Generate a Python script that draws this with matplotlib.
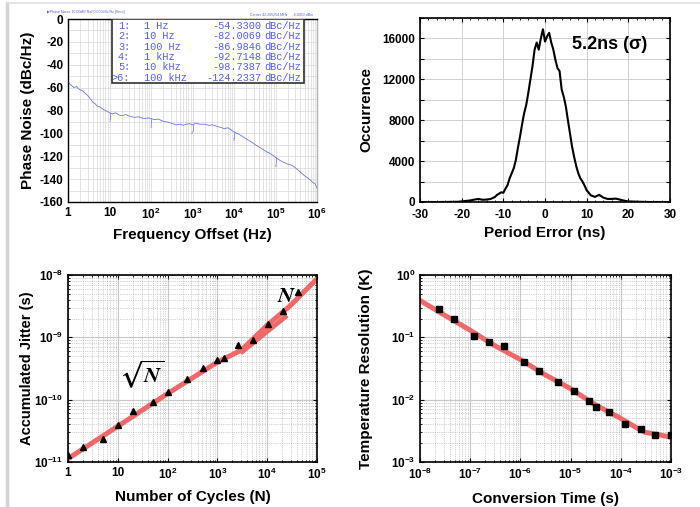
import numpy as np
import matplotlib.pyplot as plt
from matplotlib.ticker import FuncFormatter, LogLocator, MultipleLocator, NullFormatter
from matplotlib.lines import Line2D

plt.rcParams['font.family'] = ['Liberation Sans', 'DejaVu Sans']
plt.rcParams['font.weight'] = 'bold'
plt.rcParams['axes.unicode_minus'] = False
plt.rcParams['mathtext.fontset'] = 'custom'
plt.rcParams['mathtext.rm'] = 'Liberation Sans:bold'
plt.rcParams['mathtext.bf'] = 'Liberation Sans:bold'
plt.rcParams['mathtext.default'] = 'bf'

# ---- data ----
pn_freq = [1, 1.1, 1.2, 1.4, 1.6, 1.8, 2, 2.3, 2.6, 3, 3.5, 4, 4.5, 5, 6, 7, 8, 9,
           10, 12, 14, 17, 20, 25, 30, 40, 50, 60, 70, 85,
           100, 120, 150, 200, 250, 300, 400, 500, 600, 700, 850,
           1e3, 1.2e3, 1.5e3, 2e3, 2.5e3, 3e3, 4e3, 5e3, 6e3, 7e3, 8.5e3,
           1e4, 1.2e4, 1.5e4, 2e4, 2.5e4, 3e4, 4e4, 5e4, 6e4, 7e4, 8.5e4,
           1e5, 1.2e5, 1.5e5, 2e5, 2.5e5, 3e5, 4e5, 5e5, 6e5, 7e5, 8e5, 9e5, 1e6]
pn_db = [-54.3, -57, -58, -60, -59, -61, -62, -63, -65, -67, -70, -73, -74, -76, -77, -79, -80, -81,
         -82, -83, -82, -84, -84.5, -83.5, -85, -86, -85.5, -86.5, -87, -86.5,
         -87, -88, -87.5, -89.5, -90, -91, -92.5, -92, -93, -92, -91.5,
         -92.7, -91, -92, -92, -93, -92.5, -94, -95, -96, -95, -97,
         -98.7, -100, -102, -105, -107, -109, -112, -114, -116, -117, -119,
         -121, -123, -125, -127, -128, -130, -134, -137, -139, -141, -143, -144, -148]
marker_freq = [1e1, 1e2, 1e3, 1e4, 1e5]
marker_rows = [('1:', '1 Hz', '-54.3300'), ('2:', '10 Hz', '-82.0069'), ('3:', '100 Hz', '-86.9846'),
               ('4:', '1 kHz', '-92.7148'), ('5:', '10 kHz', '-98.7387'), ('>6:', '100 kHz', '-124.2337')]

err_ns = [-30, -25, -21, -20, -18, -17, -16, -15, -14, -13, -12, -11.5, -11, -10.5, -10, -9.5, -9, -8.5, -8,
          -7.5, -7, -6.5, -6, -5.5, -5, -4.5, -4, -3.5, -3, -2.5, -2, -1.5, -1, -0.5, 0, 0.5, 1, 1.5,
          2, 2.5, 3, 3.5, 4, 4.5, 5, 5.5, 6, 6.5, 7, 7.5, 8, 8.5, 9, 9.5, 10, 10.5, 11, 12, 13, 14,
          15, 16, 17, 18, 19, 20, 22, 25, 30]
occurrence = [0, 0, 20, 60, 150, 230, 300, 220, 240, 300, 500, 700, 820, 950, 900, 1300, 1640, 2300, 2800,
              3300, 4100, 5300, 6400, 7600, 8700, 9500, 10700, 12000, 13300, 14900, 15600, 14900, 16000, 16900, 15700, 16200, 16550, 15600,
              14900, 13900, 13100, 12800, 11000, 10300, 9350, 8000, 6700, 5400, 4400, 3500, 2800, 2300, 2000, 1600, 1150, 900, 650, 500, 700, 430,
              300, 300, 330, 230, 130, 60, 30, 0, 0]

cycles = [1, 2, 5, 10, 20, 50, 100, 240, 510, 1000, 1360, 2550, 5090, 10500, 21000, 42000]
jitter = [1.3e-11, 1.74e-11, 2.37e-11, 3.9e-11, 6.6e-11, 9.2e-11, 1.34e-10, 2.15e-10, 3.2e-10,
          4.4e-10, 4.7e-10, 7.4e-10, 9.2e-10, 1.66e-9, 2.6e-9, 5.3e-9]
fit_cycles = [1, 10, 100, 1000, 3000, 1e4, 3e4, 1e5]
fit_jitter = [1.13e-11, 3.74e-11, 1.25e-10, 4.0e-10, 6.2e-10, 1.56e-9, 3.3e-9, 8.7e-9]
fitN_cycles = [2900, 25000]
fitN_jitter = [5.6e-10, 2.25e-9]

conv_time = [2.36e-8, 4.7e-8, 1.18e-7, 2.36e-7, 4.7e-7, 1.17e-6, 2.3e-6, 5.7e-6, 1.17e-5, 2.33e-5,
             3.2e-5, 5.9e-5, 1.2e-4, 2.47e-4, 4.9e-4, 1e-3]
temp_res = [0.29, 0.195, 0.104, 0.084, 0.072, 0.040, 0.029, 0.0195, 0.0138, 0.0095,
            0.0077, 0.0063, 0.004, 0.0034, 0.0027, 0.00275]
fit_time = [1e-8, 3e-8, 1e-7, 3e-7, 1e-6, 3e-6, 1e-5, 3e-5, 1e-4, 2e-4, 3e-4, 5e-4, 1e-3]
fit_res = [0.39, 0.23, 0.13, 0.0745, 0.044, 0.0255, 0.015, 0.0084, 0.005, 0.0036, 0.003, 0.0028, 0.0025]

W, H = 700, 507
fig = plt.figure(figsize=(W / 100, H / 100), dpi=100)
red = '#ee6a6a'
tick_fs = 8.5
lab_fs = 11


def box(l, t, r, b):
    return [l / W, 1 - b / H, (r - l) / W, (b - t) / H]


def logfmt(v, pos):
    e = int(round(np.log10(v)))
    if e == 0:
        return '1'
    if e == 1:
        return '10'
    return r'$10^{%d}$' % e


def sci(v, pos):
    return r'$10^{%d}$' % int(round(np.log10(v)))


def style(ax):
    ax.tick_params(which='both', direction='in', top=True, right=True, labelsize=tick_fs)
    ax.tick_params(which='major', length=3)
    ax.tick_params(which='minor', length=1.5)
    for s in ax.spines.values():
        s.set_linewidth(1.2)


# ---- phase noise ----
ax1 = fig.add_axes(box(68, 19, 317, 202))
ax1.semilogx(pn_freq, pn_db, color='#6a78dd', lw=0.6)
for i, f in enumerate(marker_freq):
    v = np.interp(np.log10(f), np.log10(pn_freq), pn_db)
    ax1.plot([f, f], [v, v - 5], color='#6a78dd', lw=0.5)
    ax1.text(f, v - 5.5, str(i + 2), fontsize=3, color='#6a78dd', ha='center', va='top', fontweight='normal')
ax1.set_xlim(1, 1e6)
ax1.set_ylim(-160, 0)
ax1.set_yticks(np.arange(-160, 1, 20))
ax1.yaxis.set_minor_locator(MultipleLocator(10))
ax1.xaxis.set_major_locator(LogLocator(base=10, numticks=10))
ax1.xaxis.set_minor_locator(LogLocator(base=10, subs=np.arange(2, 10), numticks=10))
ax1.xaxis.set_major_formatter(FuncFormatter(logfmt))
ax1.xaxis.set_minor_formatter(NullFormatter())
ax1.grid(which='both', color='#d8d8d8', lw=0.5)
ax1.tick_params(which='both', length=0, labelsize=tick_fs)
ax1.set_xlabel('Frequency Offset (Hz)', fontsize=lab_fs, fontweight='bold')
ax1.set_ylabel('Phase Noise (dBc/Hz)', fontsize=lab_fs, fontweight='bold')
ax1.yaxis.set_label_coords(-0.132, 0.5)
for s in ax1.spines.values():
    s.set_linewidth(1.0)
ax1.spines['right'].set_color('#b0b0b0')
ax1.add_patch(plt.Rectangle((0.175, 0.65), 0.772, 0.35, transform=ax1.transAxes,
                            facecolor='white', edgecolor='#303030', lw=1.2, zorder=5))
for k, (a, b, c) in enumerate(marker_rows):
    yy = 0.962 - k * 0.0565
    kw = dict(transform=ax1.transAxes, fontsize=7.4, color='#5560d8', family='Liberation Mono',
              fontweight='normal', va='center', zorder=6)
    ax1.text(0.25, yy, a, ha='right', **kw)
    ax1.text(0.305, yy, b, ha='left', **kw)
    ax1.text(0.775, yy, c, ha='right', **kw)
    ax1.text(0.79, yy, 'dBc/Hz', ha='left', **kw)
fig.text(47 / W, 1 - 12 / H, '\u25b6Phase Noise 10.00dB/ Ref 0.000dBc/Hz [Smo]', fontsize=2.6,
         color='#5560d8', fontweight='normal', va='center')
fig.text(250 / W, 1 - 15 / H, 'Carrier 42.295254 MHz     -5.0453 dBm', fontsize=2.6,
         color='#5560d8', fontweight='normal', va='center')

# ---- period error histogram ----
ax2 = fig.add_axes(box(420, 18, 670, 202))
ax2.plot(err_ns, occurrence, color='black', lw=1.5)
ax2.set_xlim(-30, 30)
ax2.set_ylim(0, 18000)
ax2.set_xticks(np.arange(-30, 31, 10))
ax2.set_yticks(np.arange(0, 18001, 2000))
ax2.yaxis.set_major_formatter(FuncFormatter(lambda v, p: '%d' % v if v % 4000 == 0 and v < 18000 else ''))
ax2.xaxis.set_minor_locator(MultipleLocator(2))
ax2.grid(which='major', color='#d0d0d0', lw=0.7)
style(ax2)
ax2.tick_params(axis='x', pad=5)
ax2.set_xlabel('Period Error (ns)', fontsize=lab_fs, fontweight='bold')
ax2.set_ylabel('Occurrence', fontsize=lab_fs, fontweight='bold')
ax2.yaxis.set_label_coords(-0.188, 0.5)
ax2.text(6.5, 15400, '5.2ns (\u03c3)', fontsize=13, fontweight='bold', va='center')

# ---- accumulated jitter ----
ax3 = fig.add_axes(box(68, 275, 317, 462))
ax3.loglog(fit_cycles, fit_jitter, color=red, lw=3.6, solid_capstyle='butt', zorder=2)
ax3.loglog(fitN_cycles, fitN_jitter, color=red, lw=3.6, solid_capstyle='butt', zorder=2)
ax3.loglog(cycles, jitter, '^', color='black', ms=5, zorder=3)
ax3.set_xlim(1, 1e5)
ax3.set_ylim(1e-11, 1e-8)
ax3.xaxis.set_major_formatter(FuncFormatter(logfmt))
ax3.yaxis.set_major_formatter(FuncFormatter(sci))
for a in (ax3.xaxis, ax3.yaxis):
    a.set_minor_locator(LogLocator(base=10, subs=np.arange(2, 10), numticks=12))
    a.set_minor_formatter(NullFormatter())
ax3.grid(which='major', color='#c8c8c8', lw=0.8)
ax3.grid(which='minor', color='#a8a8a8', lw=0.5, ls=':')
style(ax3)
ax3.set_xlabel('Number of Cycles (N)', fontsize=lab_fs, fontweight='bold')
ax3.set_ylabel('Accumulated Jitter (s)', fontsize=10.5, fontweight='bold')
ax3.yaxis.set_label_coords(-0.137, 0.5)
ax3.xaxis.set_label_coords(0.5, -0.152)
ax3.text(30, 2.6e-10, r'$\sqrt{\boldsymbol{N}}$', fontsize=16, math_fontfamily='stix', ha='center', va='center')
ax3.text(2.4e4, 4.6e-9, r'$\boldsymbol{N}$', fontsize=16, math_fontfamily='stix', ha='center', va='center')

# ---- temperature resolution ----
ax4 = fig.add_axes(box(420, 275, 671, 462))
ax4.loglog(fit_time, fit_res, color=red, lw=3.6, zorder=2)
ax4.loglog(conv_time, temp_res, 's', color='black', ms=4.2, zorder=3)
ax4.set_xlim(1e-8, 1e-3)
ax4.set_ylim(1e-3, 1)
ax4.xaxis.set_major_formatter(FuncFormatter(sci))
ax4.yaxis.set_major_formatter(FuncFormatter(sci))
for a in (ax4.xaxis, ax4.yaxis):
    a.set_minor_locator(LogLocator(base=10, subs=np.arange(2, 10), numticks=12))
    a.set_minor_formatter(NullFormatter())
ax4.grid(which='major', color='#c8c8c8', lw=0.8)
ax4.grid(which='minor', color='#a8a8a8', lw=0.5, ls=':')
style(ax4)
ax4.set_xlabel('Conversion Time (s)', fontsize=lab_fs, fontweight='bold')
ax4.set_ylabel('Temperature Resolution (K)', fontsize=lab_fs, fontweight='bold')
ax4.yaxis.set_label_coords(-0.187, 0.5)
ax4.xaxis.set_label_coords(0.5, -0.158)

# light frame around the picture
fig.add_artist(Line2D([7 / W, 7 / W], [0, 1 - 3 / H], color='#d4d4d4', lw=2.5))
fig.add_artist(Line2D([7 / W, 1], [1 - 3 / H, 1 - 3 / H], color='#e0e0e0', lw=1.2))

fig.savefig('out.png', dpi=100)
